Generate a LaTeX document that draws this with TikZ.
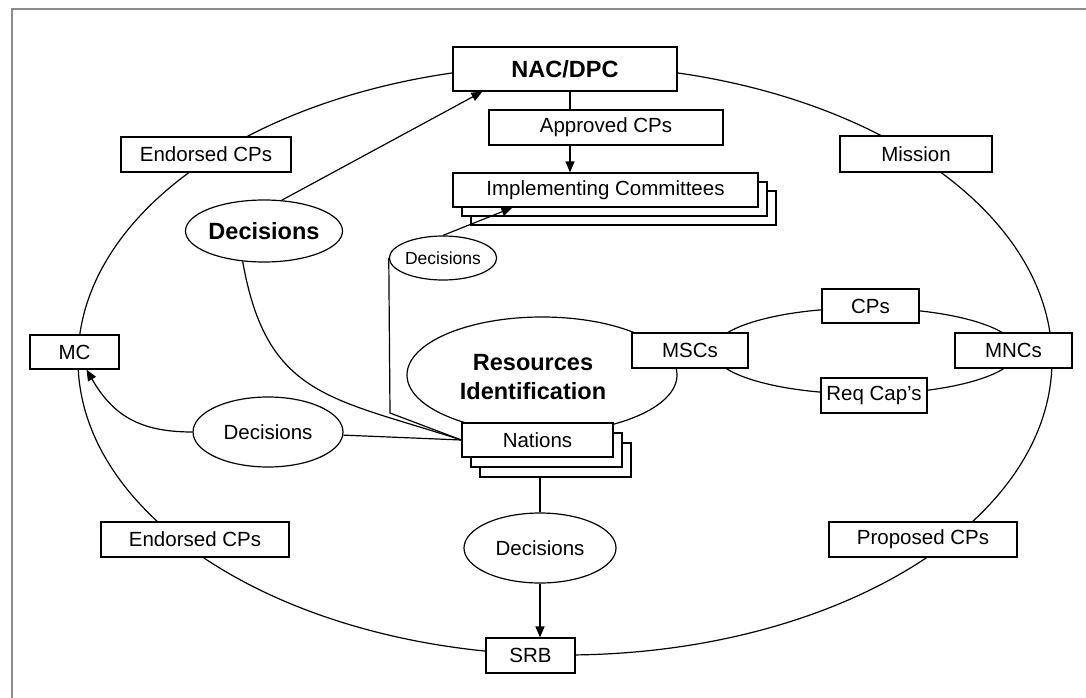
\documentclass[tikz,border=0pt]{standalone}
\usepackage{fontspec}
\setmainfont{Liberation Sans}
\usetikzlibrary{arrows.meta,calc,shapes.geometric}
\tikzset{
  lw/.style={line width=1.2pt},
  freg/.style={font=\fontsize{20.5}{24}\selectfont},
  fsmall/.style={font=\fontsize{17.5}{21}\selectfont},
  fbold/.style={font=\bfseries\fontsize{23.5}{29}\selectfont},
  bx/.style 2 args={draw, lw, fill=white, rectangle, inner sep=0pt, freg,
    minimum width=#1pt, minimum height=#2pt},
  oval/.style 2 args={draw, lw, fill=white, ellipse, inner sep=0pt, freg,
    minimum width=#1pt, minimum height=#2pt},
  ring/.style 2 args={draw, lw, ellipse, inner sep=0pt,
    minimum width=#1pt, minimum height=#2pt},
  conn/.style={lw},
  arr/.style={lw, -{Triangle[length=11pt,width=9pt]}},
}
\begin{document}
\begin{tikzpicture}[x=1pt,y=1pt]
\useasboundingbox (0,0) rectangle (1086,-698);
\fill[white] (0,0) rectangle (1086,-698);
\draw[black!45, line width=2pt] (12,-698) -- (12,-9) -- (1086,-9);

% rings
\node[ring={974}{590}] (outer) at (565,-360) {};
\node[ring={304}{86}] (inner) at (865,-351) {};
\node[ring={270}{116}] (res) at (542,-375) {};
\node[fbold, align=center] (restext) at (533,-377) {Resources\\Identification};

% boxes
\node[bx={224}{44}, fbold] (nac) at (565,-69) {NAC/DPC};
\node[bx={234}{35}] (appr) at (606,-127.5) {Approved CPs};
\node[bx={305}{34}] (impl3) at (623.5,-208) {};
\node[bx={305}{34}] (impl2) at (614.5,-199) {};
\node[bx={305}{34}] (impl) at (605.5,-190) {Implementing Committees};
\node[bx={152}{36}] (mission) at (916,-154) {Mission};
\node[bx={170}{35}] (endu) at (206,-154.5) {Endorsed CPs};
\node[bx={89}{34}] (mc) at (74.5,-352) {MC};
\node[bx={188}{35}] (endl) at (195,-539.5) {Endorsed CPs};
\node[bx={89}{35}] (srb) at (530.5,-655.5) {SRB};
\node[bx={188}{35}] (prop) at (923,-539.5) {Proposed CPs};
\node[bx={117}{35}] (mncs) at (1013.5,-350.5) {MNCs};
\node[bx={116}{35}] (mscs) at (690,-350.5) {MSCs};
\node[bx={97}{34}] (cps) at (870.5,-306) {CPs};
\node[bx={106}{35}] (req) at (874,-395.5) {Req Cap's};
\node[bx={151}{34}] (nat3) at (555.5,-460) {};
\node[bx={151}{34}] (nat2) at (546.5,-450) {};
\node[bx={151}{34}] (nat) at (537.5,-440) {Nations};

% ellipses
\node[oval={144}{62}, fbold] (dec1) at (264,-231) {Decisions};
\node[oval={150}{70}] (dec2) at (268,-432) {Decisions};
\node[oval={106}{44}, fsmall] (dec3) at (443,-258) {Decisions};
\node[oval={152}{70}] (dec4) at (540,-548) {Decisions};

% connectors
\coordinate (colx) at (570,0);
\draw[conn] (nac.south -| colx) -- (appr.north -| colx);
\draw[arr] (appr.south -| colx) -- (impl.north -| colx);
\draw[arr] (dec1.60) -- ($(nac.south west)+(30,0)$);
\draw[conn] (dec1.235) to[out=-80,in=162,looseness=1.25] (nat.west);
\draw[conn] (dec2) -- (nat.west);
\draw[arr] (dec2.west) to[out=180,in=-60,looseness=1.1] ($(mc.south)+(12,0)$);
\draw[arr] (dec3.north) -- ($(impl.south west)+(60,0)$);
\coordinate (d3c) at (390,-413);
\draw[conn] (dec3.west) -- (d3c) -- (nat.west);
\draw[conn] (dec4.north |- nat3.south) -- (dec4.north);
\draw[arr] (dec4.south) -- (dec4.south |- srb.north);
\end{tikzpicture}
\end{document}
